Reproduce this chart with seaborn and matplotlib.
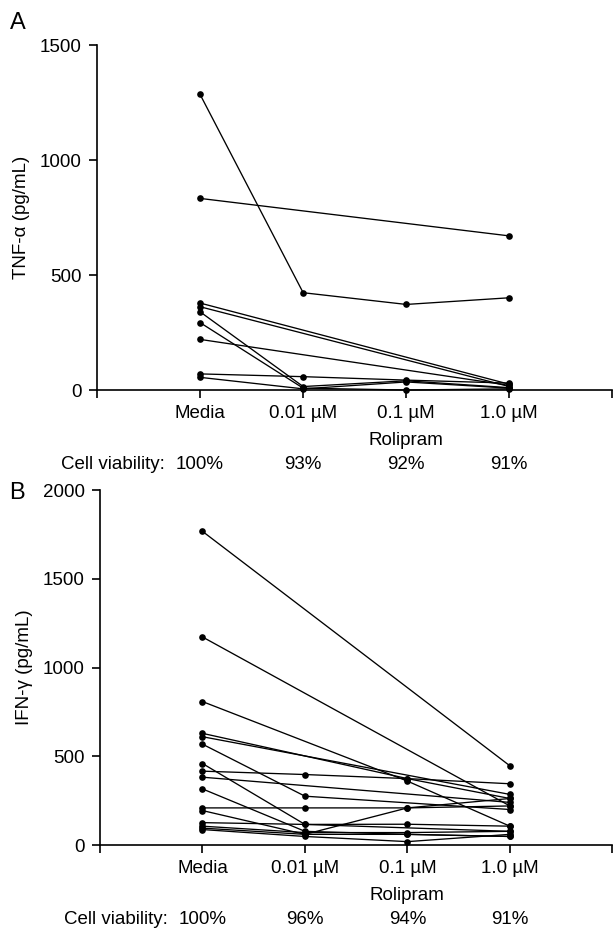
import matplotlib
matplotlib.use("Agg")
import matplotlib.pyplot as plt
import numpy as np
import pandas as pd
import seaborn as sns

conc = ["Media", "0.01 µM", "0.1 µM", "1.0 µM"]

# TNF-alpha per donor (pg/mL), None = not measured
tnf = [
    [1285, 423, 372, 401],
    [833, None, None, 670],
    [378, None, None, 25],
    [362, None, None, 15],
    [340, 15, 40, 10],
    [293, 8, 0, 5],
    [220, None, None, 20],
    [70, 58, 43, 30],
    [55, 5, 35, 8],
]
viab_a = ["100%", "93%", "92%", "91%"]

# IFN-gamma per donor (pg/mL)
ifn = [
    [1767, None, None, 446],
    [1172, None, None, 220],
    [808, None, 360, 106],
    [629, None, 374, 262],
    [610, None, None, 285],
    [568, 275, None, 200],
    [459, 116, None, 77],
    [416, 397, 374, 345],
    [382, None, None, 240],
    [316, 77, 60, 48],
    [209, 209, 209, 220],
    [194, 60, 209, 262],
    [126, 116, 117, 106],
    [106, 70, 70, 77],
    [95, 60, 60, 48],
    [87, 48, 19, 60],
]
viab_b = ["100%", "96%", "94%", "91%"]


def to_long(rows):
    recs = []
    for i, r in enumerate(rows):
        for j, v in enumerate(r):
            if v is not None:
                recs.append({"donor": i, "pos": j, "val": v})
    return pd.DataFrame(recs)


sns.set_style("ticks")
plt.rcParams["font.family"] = ["Liberation Sans", "DejaVu Sans"]
for k in ["text.color", "axes.labelcolor", "xtick.color", "ytick.color", "axes.edgecolor"]:
    plt.rcParams[k] = "black"

FS = 13.5

fig = plt.figure(figsize=(6.13, 9.3), dpi=100)
axA = fig.add_axes([97 / 613, 1 - 390 / 930, 1 - 97 / 613 - 0.001, 345 / 930])
axB = fig.add_axes([100 / 613, 1 - 845 / 930, 1 - 100 / 613 - 0.001, 355 / 930])


def draw(ax, rows, ymax, yticks, ylabel, viab):
    df = to_long(rows)
    sns.lineplot(data=df, x="pos", y="val", units="donor", estimator=None,
                 color="black", linewidth=0.95, marker="o", markersize=4.8,
                 markeredgewidth=0, ax=ax, legend=False)
    for ln in ax.lines:
        ln.set_clip_on(False)
    ax.set_xlim(-1, 4)
    ax.set_ylim(0, ymax)
    ax.set_yticks(yticks)
    ax.set_xticks([-1, 0, 1, 2, 3, 4])
    ax.set_xticklabels([""] + conc + [""])
    ax.set_xlabel("")
    ax.set_ylabel(ylabel, fontsize=FS, labelpad=7)
    sns.despine(ax=ax)
    for s in ["left", "bottom"]:
        ax.spines[s].set_linewidth(1.2)
    ax.tick_params(axis="both", labelsize=FS, length=6, width=1.2,
                   direction="out", pad=5)
    tr = ax.get_xaxis_transform()
    ax.annotate("Rolipram", xy=(2, 0), xycoords=tr, xytext=(0, -36),
                textcoords="offset points", ha="center", va="center", fontsize=FS)
    for j, v in enumerate(viab):
        ax.annotate(v, xy=(j, 0), xycoords=tr, xytext=(0, -53.5),
                    textcoords="offset points", ha="center", va="center", fontsize=FS)
    ax.annotate("Cell viability:", xy=(0, 0), xycoords=tr, xytext=(-25, -53.5),
                textcoords="offset points", ha="right", va="center", fontsize=FS)


draw(axA, tnf, 1500, [0, 500, 1000, 1500], "TNF-α (pg/mL)", viab_a)
draw(axB, ifn, 2000, [0, 500, 1000, 1500, 2000], "IFN-γ (pg/mL)", viab_b)

fig.text(10 / 613, 1 - 23 / 930, "A", fontsize=17, va="center", ha="left")
fig.text(9 / 613, 1 - 493 / 930, "B", fontsize=17, va="center", ha="left")

fig.savefig("out.png", dpi=100)
